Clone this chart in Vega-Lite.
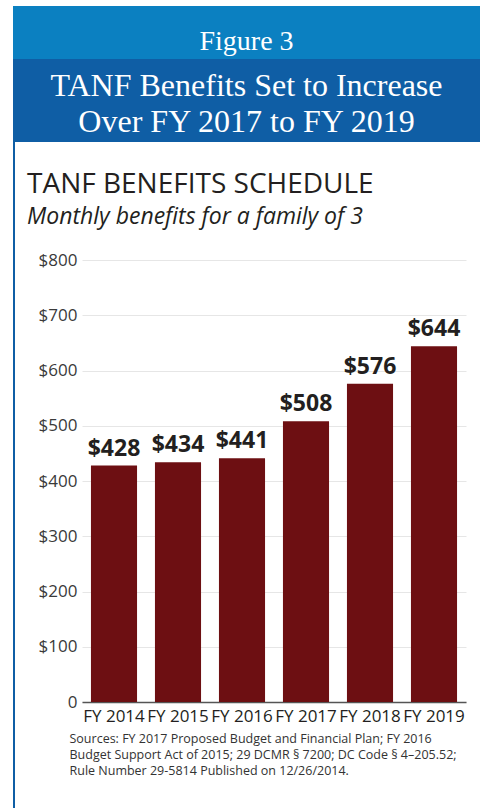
{
  "$schema": "https://vega.github.io/schema/vega-lite/v6.json",
  "background": "white",
  "padding": {"left": 13, "top": 6, "right": 0, "bottom": 0},
  "autosize": {"type": "pad"},
  "config": {"view": {"stroke": null}},
  "bounds": "flush",
  "spacing": 0,
  "vconcat": [
    {
      "width": 467,
      "height": 53,
      "view": {"fill": "#0b80c1", "stroke": null},
      "data": {"values": [{"t": "Figure 3"}]},
      "mark": {"type": "text", "font": "Liberation Serif", "fontSize": 28, "color": "white", "baseline": "alphabetic", "dy": 17},
      "encoding": {"text": {"field": "t", "type": "nominal"}}
    },
    {
      "width": 467,
      "height": 83,
      "view": {"fill": "#0f5ea5", "stroke": null},
      "data": {"values": [{"t": "TANF Benefits Set to Increase\nOver FY 2017 to FY 2019"}]},
      "mark": {"type": "text", "font": "Liberation Serif", "fontSize": 32, "color": "white", "baseline": "alphabetic", "lineBreak": "\n", "lineHeight": 36, "dy": -4.5},
      "encoding": {"text": {"field": "t", "type": "nominal"}}
    },
    {
      "bounds": "flush",
      "spacing": 67,
      "hconcat": [
        {
          "width": 2,
          "height": 666,
          "view": {"fill": "#0f5ea5", "stroke": null},
          "data": {"values": [{"t": ""}]},
          "mark": {"type": "text"},
          "encoding": {"text": {"field": "t", "type": "nominal"}}
        },
        {
          "bounds": "flush",
          "spacing": 117,
          "vconcat": [
            {
              "width": 1,
              "height": 1,
              "view": {"stroke": null},
              "data": {"values": [{"t": ""}]},
              "mark": {"type": "text"},
              "encoding": {"text": {"field": "t", "type": "nominal"}}
            },
            {
              "width": 384,
              "height": 442,
              "title": {
                "text": "TANF BENEFITS SCHEDULE",
                "subtitle": "Monthly benefits for a family of 3",
                "anchor": "start",
                "frame": "group",
                "dx": -55,
                "offset": 22,
                "font": "Open Sans",
                "fontSize": 28,
                "fontWeight": "normal",
                "color": "#231f20",
                "subtitleFont": "Open Sans",
                "subtitleFontSize": 23,
                "subtitleFontStyle": "italic",
                "subtitleColor": "#231f20",
                "subtitlePadding": 7
              },
              "data": {"values": [
                {"year": "FY 2014", "value": 428},
                {"year": "FY 2015", "value": 434},
                {"year": "FY 2016", "value": 441},
                {"year": "FY 2017", "value": 508},
                {"year": "FY 2018", "value": 576},
                {"year": "FY 2019", "value": 644}
              ]},
              "encoding": {
                "x": {
                  "field": "year",
                  "type": "nominal",
                  "sort": null,
                  "scale": {"paddingInner": 0.28, "paddingOuter": 0.14},
                  "axis": {
                    "labelAngle": 0,
                    "labelFont": "Open Sans",
                    "labelFontSize": 17,
                    "labelColor": "#231f20",
                    "labelPadding": 6,
                    "labelOverlap": false,
                    "labelBound": false,
                    "ticks": false,
                    "domain": true,
                    "domainColor": "#555555",
                    "domainWidth": 1.5,
                    "title": [
                      "Sources: FY 2017 Proposed Budget and Financial Plan; FY 2016",
                      "Budget Support Act of 2015; 29 DCMR § 7200; DC Code § 4–205.52;",
                      "Rule Number 29-5814 Published on 12/26/2014."
                    ],
                    "titleFont": "Open Sans",
                    "titleFontSize": 12.5,
                    "titleFontWeight": "normal",
                    "titleColor": "#333333",
                    "titleAnchor": "start",
                    "titleAlign": "left",
                    "titleBaseline": "top",
                    "titleX": -13,
                    "titleY": 30,
                    "titleLineHeight": 16
                  }
                },
                "y": {
                  "field": "value",
                  "type": "quantitative",
                  "scale": {"domain": [0, 800], "nice": false},
                  "axis": {
                    "values": [0, 100, 200, 300, 400, 500, 600, 700, 800],
                    "labelExpr": "datum.value === 0 ? '0' : '$' + datum.value",
                    "labelFont": "Open Sans",
                    "labelFontSize": 17,
                    "labelColor": "#3a3a3a",
                    "labelPadding": 5,
                    "ticks": false,
                    "domain": false,
                    "grid": true,
                    "gridColor": "#e6e6e6",
                    "gridWidth": 1,
                    "title": null
                  }
                }
              },
              "layer": [
                {"mark": {"type": "bar", "color": "#6d0f12"}},
                {
                  "mark": {"type": "text", "font": "Open Sans", "fontSize": 23, "fontWeight": "bold", "color": "#231f20", "baseline": "alphabetic", "dy": -10},
                  "encoding": {"text": {"field": "value", "type": "quantitative", "format": "$.0f"}}
                }
              ]
            }
          ]
        }
      ]
    }
  ]
}
